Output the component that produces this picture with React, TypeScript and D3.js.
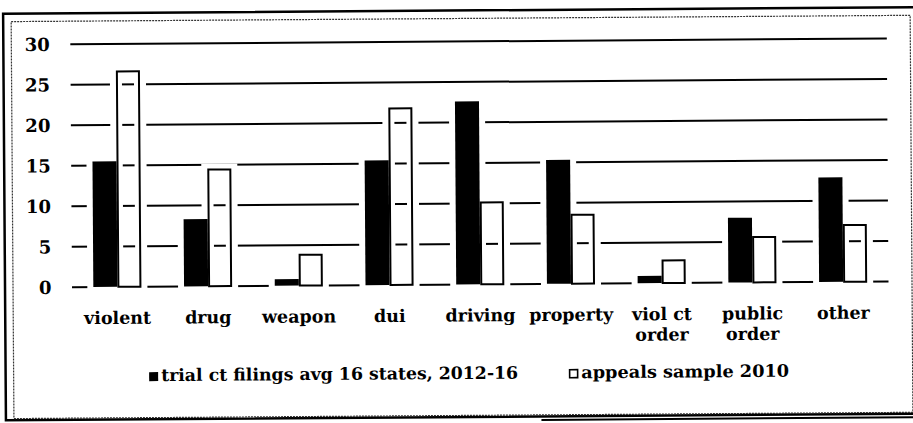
import React from "react";
import * as d3 from "d3";

const categories = ["violent", "drug", "weapon", "dui", "driving", "property", "viol ct\norder", "public\norder", "other"];
const trialFilings = [15.5, 8.3, 0.8, 15.4, 22.6, 15.3, 0.9, 8.0, 12.9];
const appealsSample = [26.6, 14.4, 3.8, 21.8, 10.1, 8.5, 2.8, 5.6, 7.0];
const yTicks = [0, 5, 10, 15, 20, 25, 30];
const seriesNames = ["trial ct filings avg 16 states, 2012-16", "appeals sample 2010"];

const W = 913;
const H = 423;
const FONT = "'DejaVu Serif', 'Liberation Serif', serif";

export default function App() {
  const x0 = d3.scaleBand<string>().domain(categories).range([71.5, 888]).paddingInner(0.47).paddingOuter(0.235);
  const x1 = d3.scaleBand<string>().domain(["trial", "appeals"]).range([0, x0.bandwidth()]).padding(0);
  const y = d3.scaleLinear().domain([0, 30]).range([284.5, 41.5]);

  const bars = categories.flatMap((c, i) => [
    { key: c + "-t", x: (x0(c) ?? 0) + (x1("trial") ?? 0), v: trialFilings[i], kind: "trial" },
    { key: c + "-a", x: (x0(c) ?? 0) + (x1("appeals") ?? 0), v: appealsSample[i], kind: "appeals" },
  ]);
  const bw = x1.bandwidth();

  return (
    <svg width={W} height={H} style={{ position: "absolute", left: 0, top: 0, background: "#fff" }} fontFamily={FONT}>
      <rect x={0} y={0} width={W} height={H} fill="#fff" />
      <g transform={`rotate(-0.4 ${W / 2} ${H / 2})`}>
        {/* frames */}
        <rect x={4.5} y={10.5} width={915} height={406.5} fill="none" stroke="#000" strokeWidth={2.5} />
        <rect x={12.5} y={18.5} width={899} height={397} fill="none" stroke="#333" strokeWidth={1.2} strokeDasharray="2 1" />
        <line x1={540} x2={920} y1={420.5} y2={420.5} stroke="#000" strokeWidth={2} />

        {/* gridlines */}
        {yTicks.map((t) => (
          <line key={"g" + t} x1={71.5} x2={888} y1={y(t)} y2={y(t)} stroke="#000" strokeWidth={2} />
        ))}
        {/* y labels */}
        {yTicks.map((t) => (
          <text key={"yl" + t} x={51} y={y(t)} dy="0.36em" textAnchor="end" fontSize={18} fontWeight="bold">
            {t}
          </text>
        ))}

        {/* halos */}
        {bars.map((b) => (
          <rect key={"h" + b.key} x={b.x} y={y(b.v)} width={bw} height={y(0) - y(b.v)} fill="none" stroke="#fff" strokeWidth={12} />
        ))}
        {/* bars */}
        {bars.map((b) =>
          b.kind === "trial" ? (
            <rect key={b.key} x={b.x} y={y(b.v)} width={bw} height={y(0) - y(b.v)} fill="#000" />
          ) : (
            <rect key={b.key} x={b.x + 1} y={y(b.v)} width={bw - 2} height={y(0) - y(b.v)} fill="none" stroke="#000" strokeWidth={2} />
          )
        )}

        {/* x labels */}
        {categories.map((c) => {
          const lines = c.split("\n");
          const cx = (x0(c) ?? 0) + x0.bandwidth() / 2;
          return (
            <text key={"xl" + c} x={cx} y={321.5} textAnchor="middle" fontSize={17.5} fontWeight="bold">
              {lines.map((l, j) => (
                <tspan key={j} x={cx} dy={j === 0 ? 0 : 20.5}>
                  {l}
                </tspan>
              ))}
            </text>
          );
        })}

        {/* legend */}
        <rect x={148} y={370} width={9} height={9} fill="#000" />
        <text x={160} y={379} fontSize={17} fontWeight="bold" textLength={357} lengthAdjust="spacingAndGlyphs">{seriesNames[0]}</text>
        <rect x={568.5} y={370.5} width={8} height={8} fill="none" stroke="#000" strokeWidth={1.6} />
        <text x={580} y={379} fontSize={17} fontWeight="bold" textLength={208} lengthAdjust="spacingAndGlyphs">{seriesNames[1]}</text>
      </g>
    </svg>
  );
}
